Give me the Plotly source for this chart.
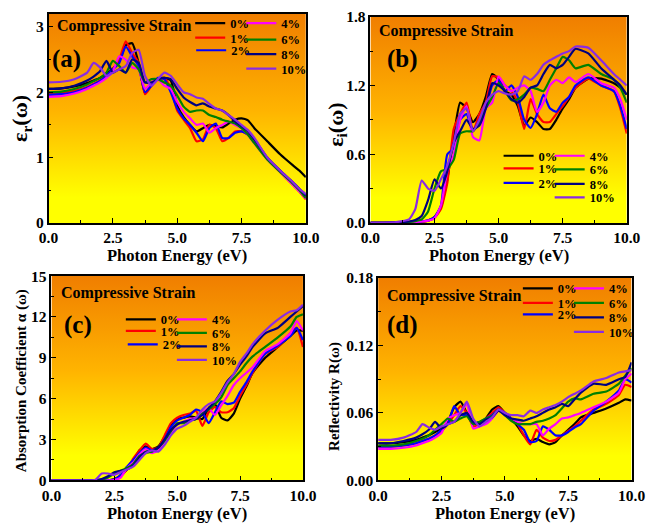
import plotly.graph_objects as go

# ---------------- data ----------------
energy = [0, 0.5, 1.0, 1.5, 1.75, 2.0, 2.25, 2.5, 2.75, 3.0, 3.25, 3.5, 3.75, 4.0, 4.25, 4.5, 4.75,
          5.0, 5.25, 5.5, 5.75, 6.0, 6.25, 6.5, 6.75, 7.0, 7.25, 7.5, 7.75, 8.0, 8.5, 9.0, 9.5, 9.75, 10.0]
strains = ["0%", "1%", "2%", "4%", "6%", "8%", "10%"]
colors = ["#000000", "#FF0000", "#0000FF", "#FF00FF", "#008000", "#000080", "#8A2BE2"]

# (a) real part
er_0 = [2.05, 2.06, 2.09, 2.14, 2.18, 2.22, 2.28, 2.36, 2.48, 2.72, 2.75, 2.45, 1.98, 2.12, 2.2, 2.22, 2.18, 1.8, 1.62, 1.5, 1.4, 1.45, 1.5, 1.48, 1.46, 1.52, 1.58, 1.6, 1.57, 1.45, 1.25, 1.05, 0.88, 0.8, 0.7]
er_1 = [1.98, 1.99, 2.02, 2.08, 2.13, 2.18, 2.25, 2.35, 2.5, 2.78, 2.6, 2.45, 1.97, 2.1, 2.2, 2.22, 2.05, 1.72, 1.58, 1.45, 1.25, 1.28, 1.5, 1.45, 1.25, 1.3, 1.4, 1.4, 1.35, 1.25, 0.98, 0.78, 0.58, 0.48, 0.36]
er_2 = [1.96, 1.97, 2.0, 2.07, 2.12, 2.17, 2.25, 2.35, 2.45, 2.7, 2.55, 2.4, 2.0, 2.1, 2.22, 2.2, 2.0, 1.75, 1.6, 1.5, 1.38, 1.25, 1.45, 1.52, 1.3, 1.3, 1.38, 1.4, 1.35, 1.25, 0.98, 0.8, 0.6, 0.5, 0.4]
er_4 = [1.93, 1.94, 1.98, 2.05, 2.1, 2.15, 2.22, 2.32, 2.55, 2.5, 2.38, 2.35, 2.05, 2.15, 2.2, 2.1, 2.05, 1.85, 1.7, 1.6, 1.5, 1.52, 1.38, 1.45, 1.5, 1.55, 1.5, 1.45, 1.35, 1.22, 0.97, 0.78, 0.58, 0.48, 0.37]
er_6 = [2.0, 2.01, 2.05, 2.12, 2.17, 2.22, 2.3, 2.48, 2.4, 2.3, 2.45, 2.35, 2.15, 2.2, 2.2, 2.15, 2.1, 1.95, 1.78, 1.7, 1.72, 1.72, 1.65, 1.62, 1.58, 1.55, 1.52, 1.45, 1.35, 1.22, 0.97, 0.78, 0.6, 0.5, 0.38]
er_8 = [2.05, 2.06, 2.1, 2.18, 2.24, 2.32, 2.48, 2.3, 2.35, 2.3, 2.5, 2.45, 2.15, 2.15, 2.2, 2.22, 2.2, 2.05, 1.92, 1.85, 1.8, 1.83, 1.78, 1.75, 1.72, 1.65, 1.55, 1.48, 1.4, 1.28, 1.0, 0.8, 0.62, 0.52, 0.42]
er_10 = [2.15, 2.16, 2.2, 2.3, 2.45, 2.38, 2.25, 2.3, 2.35, 2.4, 2.6, 2.65, 2.25, 2.1, 2.2, 2.3, 2.25, 2.12, 2.0, 1.97, 1.92, 1.9, 1.82, 1.75, 1.72, 1.65, 1.58, 1.5, 1.42, 1.3, 1.0, 0.8, 0.62, 0.52, 0.44]

# (b) imaginary part
ei_0 = [0, 0, 0.002, 0.005, 0.008, 0.012, 0.02, 0.05, 0.14, 0.38, 0.75, 1.05, 1.0, 0.88, 0.95, 1.1, 1.3, 1.25, 1.15, 1.12, 1.02, 0.85, 0.92, 0.88, 0.82, 0.82, 0.9, 1.0, 1.08, 1.18, 1.26, 1.26, 1.22, 1.18, 1.12]
ei_1 = [0, 0, 0.002, 0.005, 0.008, 0.012, 0.02, 0.045, 0.12, 0.35, 0.82, 0.95, 1.05, 0.8, 0.95, 1.05, 1.28, 1.27, 1.2, 1.15, 1.05, 0.82, 1.08, 0.95, 0.88, 0.88, 0.95, 1.02, 1.1, 1.18, 1.26, 1.2, 1.15, 1.0, 0.78]
ei_2 = [0, 0, 0.002, 0.005, 0.008, 0.012, 0.022, 0.05, 0.15, 0.6, 0.65, 0.9, 0.95, 0.8, 0.9, 1.0, 1.2, 1.25, 1.15, 1.2, 1.1, 0.9, 0.83, 0.95, 1.12, 1.0, 0.97, 1.05, 1.1, 1.2, 1.27, 1.2, 1.15, 1.02, 0.82]
ei_4 = [0, 0, 0.002, 0.005, 0.008, 0.012, 0.02, 0.04, 0.15, 0.45, 0.6, 0.9, 1.02, 0.75, 0.72, 1.0, 1.05, 1.28, 1.2, 1.15, 1.18, 1.2, 1.15, 0.97, 1.05, 1.2, 1.25, 1.22, 1.27, 1.23, 1.3, 1.22, 1.18, 1.08, 0.9]
ei_6 = [0, 0, 0.003, 0.008, 0.015, 0.03, 0.1, 0.3, 0.45, 0.47, 0.55, 0.78, 0.8, 0.8, 0.88, 1.0, 1.1, 1.22, 1.15, 1.07, 1.08, 1.12, 1.18, 1.17, 1.15, 1.25, 1.35, 1.45, 1.42, 1.35, 1.38, 1.3, 1.25, 1.18, 1.05]
ei_8 = [0, 0, 0.004, 0.012, 0.025, 0.06, 0.2, 0.38, 0.3, 0.45, 0.7, 0.8, 0.9, 0.82, 0.85, 1.0, 1.22, 1.2, 1.15, 1.08, 1.05, 1.1, 1.18, 1.2, 1.3, 1.38, 1.35, 1.38, 1.45, 1.52, 1.48, 1.35, 1.25, 1.2, 1.12]
ei_10 = [0, 0.001, 0.006, 0.03, 0.12, 0.37, 0.3, 0.28, 0.38, 0.5, 0.7, 0.95, 1.0, 0.8, 0.9, 1.05, 1.12, 1.15, 1.13, 1.12, 1.15, 1.28, 1.25, 1.3, 1.38, 1.42, 1.45, 1.48, 1.5, 1.54, 1.53, 1.42, 1.3, 1.25, 1.2]

# (c) absorption coefficient
ab_0 = [0, 0, 0, 0, 0, 0, 0, 0.1, 0.35, 0.8, 1.4, 2.2, 2.5, 2.3, 2.5, 3.2, 4.0, 4.5, 4.6, 4.7, 4.6, 4.5, 5.3, 5.6, 4.6, 4.4, 4.9, 6.0, 6.9, 7.9, 9.0, 9.8, 10.6, 11.0, 11.0]
ab_1 = [0, 0, 0, 0, 0, 0, 0, 0.05, 0.3, 0.8, 1.6, 2.2, 2.7, 2.3, 2.4, 3.3, 4.2, 4.6, 4.8, 4.9, 5.1, 4.0, 5.0, 5.4, 5.0, 5.0, 5.3, 6.2, 7.0, 7.9, 9.3, 9.8, 10.8, 11.2, 9.8]
ab_2 = [0, 0, 0, 0, 0, 0, 0.02, 0.05, 0.4, 1.0, 1.5, 2.0, 2.4, 2.2, 2.3, 3.0, 3.9, 4.4, 4.6, 4.8, 5.2, 5.0, 4.2, 5.0, 5.8, 5.6, 5.7, 6.5, 7.2, 8.0, 9.3, 9.9, 10.6, 11.2, 10.3]
ab_4 = [0, 0, 0, 0, 0, 0, 0, 0.02, 0.2, 0.9, 1.3, 1.9, 2.3, 2.0, 2.2, 2.8, 3.5, 4.1, 4.3, 4.5, 4.6, 5.0, 5.3, 4.8, 5.5, 6.2, 7.0, 7.5, 7.9, 8.3, 9.5, 10.0, 10.8, 11.7, 11.0]
ab_6 = [0, 0, 0, 0, 0, 0.05, 0.2, 0.5, 0.7, 0.9, 1.2, 1.8, 2.0, 2.1, 2.4, 2.9, 3.6, 4.2, 4.2, 4.4, 4.5, 4.9, 5.2, 5.6, 6.1, 7.0, 7.5, 8.0, 8.6, 9.1, 9.8, 10.5, 11.3, 12.0, 12.2]
ab_8 = [0, 0, 0, 0, 0.02, 0.1, 0.3, 0.6, 0.7, 0.8, 1.1, 1.7, 2.1, 2.2, 2.4, 3.0, 3.7, 4.1, 4.3, 4.4, 4.5, 4.8, 5.3, 5.8, 6.5, 7.3, 7.8, 8.5, 9.1, 9.8, 10.8, 11.2, 12.0, 12.4, 12.8]
ab_10 = [0, 0, 0, 0, 0.05, 0.5, 0.5, 0.4, 0.6, 0.8, 1.0, 1.5, 2.0, 2.2, 2.1, 2.6, 3.3, 3.8, 4.0, 4.3, 4.6, 5.2, 5.6, 5.8, 6.4, 7.2, 7.8, 8.7, 9.3, 10.0, 11.0, 11.8, 12.4, 12.5, 12.9]

# (d) reflectivity
rf_0 = [0.033, 0.033, 0.034, 0.036, 0.038, 0.040, 0.043, 0.046, 0.052, 0.065, 0.070, 0.060, 0.050, 0.050, 0.055, 0.063, 0.066, 0.060, 0.055, 0.048, 0.040, 0.035, 0.037, 0.034, 0.032, 0.034, 0.040, 0.045, 0.050, 0.056, 0.060, 0.064, 0.069, 0.072, 0.071]
rf_1 = [0.030, 0.030, 0.031, 0.033, 0.035, 0.037, 0.040, 0.044, 0.050, 0.058, 0.066, 0.060, 0.048, 0.050, 0.055, 0.060, 0.065, 0.060, 0.055, 0.050, 0.040, 0.032, 0.045, 0.038, 0.035, 0.036, 0.040, 0.044, 0.048, 0.053, 0.063, 0.068, 0.076, 0.085, 0.083]
rf_2 = [0.030, 0.030, 0.031, 0.033, 0.035, 0.037, 0.040, 0.045, 0.050, 0.066, 0.058, 0.058, 0.050, 0.052, 0.055, 0.058, 0.063, 0.060, 0.055, 0.050, 0.045, 0.034, 0.035, 0.048, 0.045, 0.040, 0.040, 0.043, 0.047, 0.050, 0.062, 0.070, 0.080, 0.090, 0.087]
rf_4 = [0.028, 0.028, 0.029, 0.031, 0.033, 0.035, 0.038, 0.042, 0.055, 0.058, 0.060, 0.068, 0.046, 0.048, 0.050, 0.055, 0.062, 0.058, 0.055, 0.052, 0.050, 0.050, 0.050, 0.040, 0.046, 0.050, 0.055, 0.056, 0.058, 0.060, 0.065, 0.070, 0.078, 0.090, 0.095]
rf_6 = [0.031, 0.031, 0.032, 0.035, 0.037, 0.040, 0.045, 0.050, 0.055, 0.052, 0.055, 0.057, 0.050, 0.052, 0.055, 0.057, 0.063, 0.058, 0.053, 0.050, 0.050, 0.050, 0.052, 0.053, 0.055, 0.058, 0.064, 0.070, 0.073, 0.072, 0.077, 0.079, 0.086, 0.093, 0.100]
rf_8 = [0.033, 0.033, 0.035, 0.038, 0.041, 0.045, 0.052, 0.046, 0.050, 0.052, 0.058, 0.060, 0.052, 0.050, 0.054, 0.056, 0.062, 0.058, 0.055, 0.054, 0.053, 0.055, 0.057, 0.060, 0.063, 0.065, 0.068, 0.066, 0.072, 0.078, 0.086, 0.085, 0.090, 0.092, 0.105]
rf_10 = [0.036, 0.036, 0.038, 0.043, 0.050, 0.047, 0.045, 0.048, 0.050, 0.052, 0.060, 0.070, 0.055, 0.048, 0.052, 0.056, 0.063, 0.060, 0.058, 0.058, 0.057, 0.062, 0.060, 0.063, 0.065, 0.067, 0.070, 0.074, 0.077, 0.080, 0.088, 0.091, 0.096, 0.097, 0.098]

panel_series = [
    [er_0, er_1, er_2, er_4, er_6, er_8, er_10],
    [ei_0, ei_1, ei_2, ei_4, ei_6, ei_8, ei_10],
    [ab_0, ab_1, ab_2, ab_4, ab_6, ab_8, ab_10],
    [rf_0, rf_1, rf_2, rf_4, rf_6, rf_8, rf_10],
]
panel_letters = ["(a)", "(b)", "(c)", "(d)"]
y_ranges = [[0, 3.2], [0, 1.8], [0, 15], [0, 0.18]]
y_ticks = [[0, 1, 2, 3], [0, 0.6, 1.2, 1.8], [0, 3, 6, 9, 12, 15], [0, 0.06, 0.12, 0.18]]
y_minor = [0.5, 0.3, 1.5, 0.03]
y_formats = ["d", ".1f", "d", ".2f"]
y_titles = ["ε<sub>r</sub>(ω)", "ε<sub>i</sub>(ω)", "Absorption Coefficient α (ω)", "Reflectivity R(ω)"]
x_ticks = [0, 2.5, 5, 7.5, 10]

# ---------------- layout geometry (pixels) ----------------
W, H = 661, 528
# plot areas: left, right, top, bottom
boxes = [(40, 307, 5, 221), (374, 640, 8, 221), (43, 304, 276, 487), (382, 645, 278, 487)]
# legend positions: (line start x, row centre y) per strain
legend_pos = [
    [(202, 15), (202, 30), (203, 43), (252, 15), (252, 32), (252, 47), (252, 62)],
    [(522, 152), (522, 165), (522, 180), (572, 152), (572, 166), (572, 181), (572, 195)],
    [(130, 321), (130, 333), (132, 347), (180, 321), (180, 335), (180, 349), (180, 363)],
    [(542, 289), (542, 304), (542, 316), (592, 289), (592, 304), (592, 319), (592, 334)],
]
label_pos = [((47, 18), (42, 52)), ((381, 23), (389, 52)), ((51, 293), (54, 326)), ((389, 297), (389, 326))]
ytitle_pos = [(12, 113, 22), (339, 120, 22), (12, 384, 15), (336, 400, 15)]

FONT = "Liberation Serif"
grad = [[0.0, "#FFFF00"], [0.15, "#FFFF00"], [0.55, "#FFB400"], [1.0, "#F07E00"]]

fig = go.Figure()
layout = dict(
    width=W, height=H, margin=dict(l=0, r=0, t=0, b=0),
    paper_bgcolor="white", plot_bgcolor="white", hovermode=False,
    font=dict(family=FONT, color="black"),
)
annotations = []
legend_count = 0

for p in range(4):
    xa = "x" if p == 0 else f"x{p+1}"
    ya = "y" if p == 0 else f"y{p+1}"
    L, R, T, B = boxes[p]
    y0, y1 = y_ranges[p]
    # gradient background filling the axes
    fig.add_trace(go.Scatter(
        x=[0, 10, 10, 0, 0], y=[y0, y0, y1, y1, y0], xaxis=xa, yaxis=ya,
        mode="lines", line=dict(width=0), fill="toself",
        fillgradient=dict(type="vertical", colorscale=grad, start=y0, stop=y1),
        showlegend=False, hoverinfo="skip"))
    for i, (name, col, vals) in enumerate(zip(strains, colors, panel_series[p])):
        legend_count += 1
        lg = "legend" if legend_count == 1 else f"legend{legend_count}"
        fig.add_trace(go.Scatter(
            x=energy, y=vals, xaxis=xa, yaxis=ya, mode="lines", name=name,
            line=dict(color=col, width=2.2, shape="spline", smoothing=0.5),
            legend=lg, showlegend=True))
        lx, ly = legend_pos[p][i]
        shift = 15 if i < 3 else 12
        layout[lg] = dict(
            x=(lx - shift) / W, y=1 - ly / H, xanchor="left", yanchor="middle",
            bgcolor="rgba(0,0,0,0)", borderwidth=0,
            font=dict(family=FONT, size=12.5, weight="bold", color="black"),
            itemwidth=30)
    axis_common = dict(
        showline=True, linecolor="black", linewidth=1.5, mirror=True,
        ticks="inside", ticklen=5, tickwidth=1.2, tickcolor="black",
        showgrid=False, zeroline=False,
        tickfont=dict(family=FONT, size=15.5, weight="bold", color="black"),
    )
    layout["xaxis" if p == 0 else f"xaxis{p+1}"] = dict(
        axis_common, domain=[L / W, R / W], range=[0, 10], anchor=ya,
        tickvals=x_ticks, tickformat=".1f",
        minor=dict(ticks="inside", ticklen=3, tickcolor="black", dtick=1.25, tick0=0, showgrid=False))
    layout["yaxis" if p == 0 else f"yaxis{p+1}"] = dict(
        axis_common, domain=[1 - B / H, 1 - T / H], range=[y0, y1], anchor=xa,
        tickvals=y_ticks[p], tickformat=y_formats[p],
        minor=dict(ticks="inside", ticklen=3, tickcolor="black", dtick=y_minor[p], tick0=0, showgrid=False))
    # axis titles
    annotations.append(dict(
        x=(L + R) / 2 / W, y=1 - (B + 34) / H, xref="paper", yref="paper",
        text="Photon Energy (eV)", showarrow=False, xanchor="center", yanchor="middle",
        font=dict(family=FONT, size=16.5, weight="bold", color="black")))
    tx, ty, ts = ytitle_pos[p]
    annotations.append(dict(
        x=tx / W, y=1 - ty / H, xref="paper", yref="paper", text=y_titles[p],
        showarrow=False, textangle=-90, xanchor="center", yanchor="middle",
        font=dict(family=FONT, size=ts, weight="bold", color="black")))
    (cx, cy), (lx2, ly2) = label_pos[p]
    annotations.append(dict(
        x=cx / W, y=1 - cy / H, xref="paper", yref="paper", text="Compressive Strain",
        showarrow=False, xanchor="left", yanchor="middle",
        font=dict(family=FONT, size=16, weight="bold", color="black")))
    annotations.append(dict(
        x=lx2 / W, y=1 - ly2 / H, xref="paper", yref="paper", text=panel_letters[p],
        showarrow=False, xanchor="left", yanchor="middle",
        font=dict(family=FONT, size=25, weight="bold", color="black")))

layout["annotations"] = annotations
fig.update_layout(**layout)
fig.write_html("out.html")
